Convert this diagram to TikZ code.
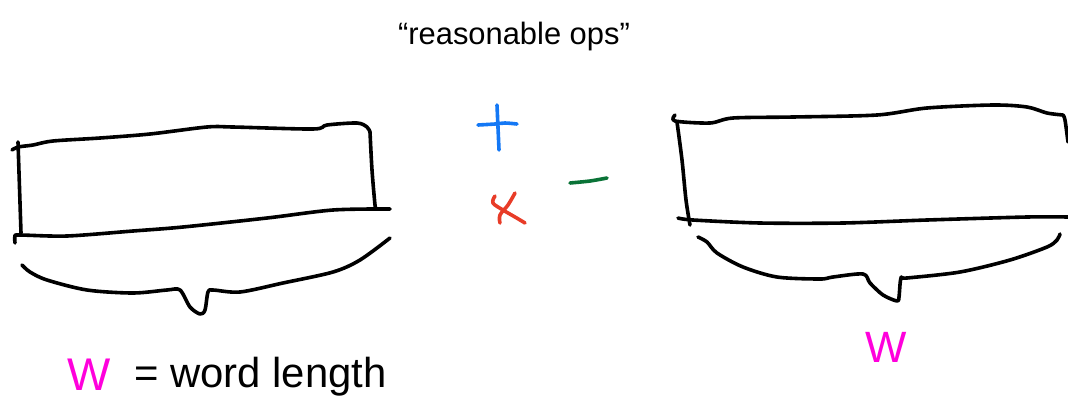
\documentclass[tikz,border=0pt]{standalone}
\usepackage{fontspec}
\setmainfont{Liberation Sans}
\definecolor{inkblue}{RGB}{20,120,245}
\definecolor{inkred}{RGB}{232,60,40}
\definecolor{inkgreen}{RGB}{10,115,55}
\definecolor{inkpink}{RGB}{255,0,220}
\tikzset{
  pen/.style={line width=3.6bp, line cap=round, line join=round},
  ink/.style={pen, black},
  label/.style={inner sep=0pt, anchor=base west},
}
\begin{document}
\begin{tikzpicture}[x=1bp, y=-1bp]
\useasboundingbox (0,0) rectangle (1068,398);

% title
\node[label, anchor=base] (title) at (514,44) {\fontsize{31}{31}\selectfont “reasonable ops”};

% left word: outline
\draw[ink] plot[smooth, tension=0.5] coordinates {(12,150) (18,147) (33,145) (53,141) (100,138) (150,134) (207,127) (233,127) (313,129) (327,125) (357,123) (367,127) (370,132)};
\draw[ink] plot[smooth, tension=0.5] coordinates {(370,132) (372,170) (375,205) (376,208)};
\draw[ink] (18,142) -- (21,233);
\draw[ink] plot[smooth, tension=0.5] coordinates {(15,243) (15,236) (20,235) (67,236) (133,231) (183,227) (267,218) (333,210) (390,209)};
% left brace
\draw[ink] plot[smooth, tension=0.5] coordinates {(22,265) (30,272) (47,280) (87,290) (133,293) (167,290) (180,290) (190,307) (200,314) (205,310) (208,292) (213,290) (240,292) (283,283) (333,272) (360,260) (390,238)};

% operators
\draw[pen, inkblue] (497,105) -- (499,150);
\draw[pen, inkblue] plot[smooth, tension=0.5] coordinates {(478,125) (495,124) (505,123) (517,124)};
\draw[pen, inkgreen] plot[smooth, tension=0.5] coordinates {(570,183) (590,181) (607,178)};
\draw[pen, inkred] plot[smooth, tension=0.6] coordinates {(515,193) (508,205) (500,215) (500,223)};
\draw[pen, inkred] plot[smooth, tension=0.6] coordinates {(495,196) (493,203) (503,210) (515,217) (525,223)};

% right word: outline
\draw[ink] plot[smooth, tension=0.5] coordinates {(675,115) (675,121) (710,123) (733,118) (793,117) (877,115) (927,108) (993,105) (1027,107) (1047,113) (1063,115)};
\draw[ink] plot[smooth, tension=0.5] coordinates {(1063,115) (1065,120) (1068,142)};
\draw[ink] plot[smooth, tension=0.5] coordinates {(677,122) (682,160) (686,200) (690,225)};
\draw[ink] plot[smooth, tension=0.5] coordinates {(678,218) (693,220) (760,223) (843,223) (927,220) (1027,217) (1068,217)};
% right brace
\draw[ink] plot[smooth, tension=0.5] coordinates {(698,237) (707,242) (717,253) (743,267) (777,277) (820,279) (833,277) (863,274) (870,283) (883,295) (897,301) (899,297) (901,278) (907,278) (960,272) (1010,260) (1047,247) (1057,240) (1060,234)};

% labels
\node[label, text=inkpink] (wleft) at (67,390) {\fontsize{46}{46}\selectfont W};
\node[label] (wordlen) at (134,387) {\fontsize{42}{42}\selectfont = word length};
\node[label, anchor=base, text=inkpink] (wright) at (886,362) {\fontsize{44}{44}\selectfont W};
\end{tikzpicture}
\end{document}
